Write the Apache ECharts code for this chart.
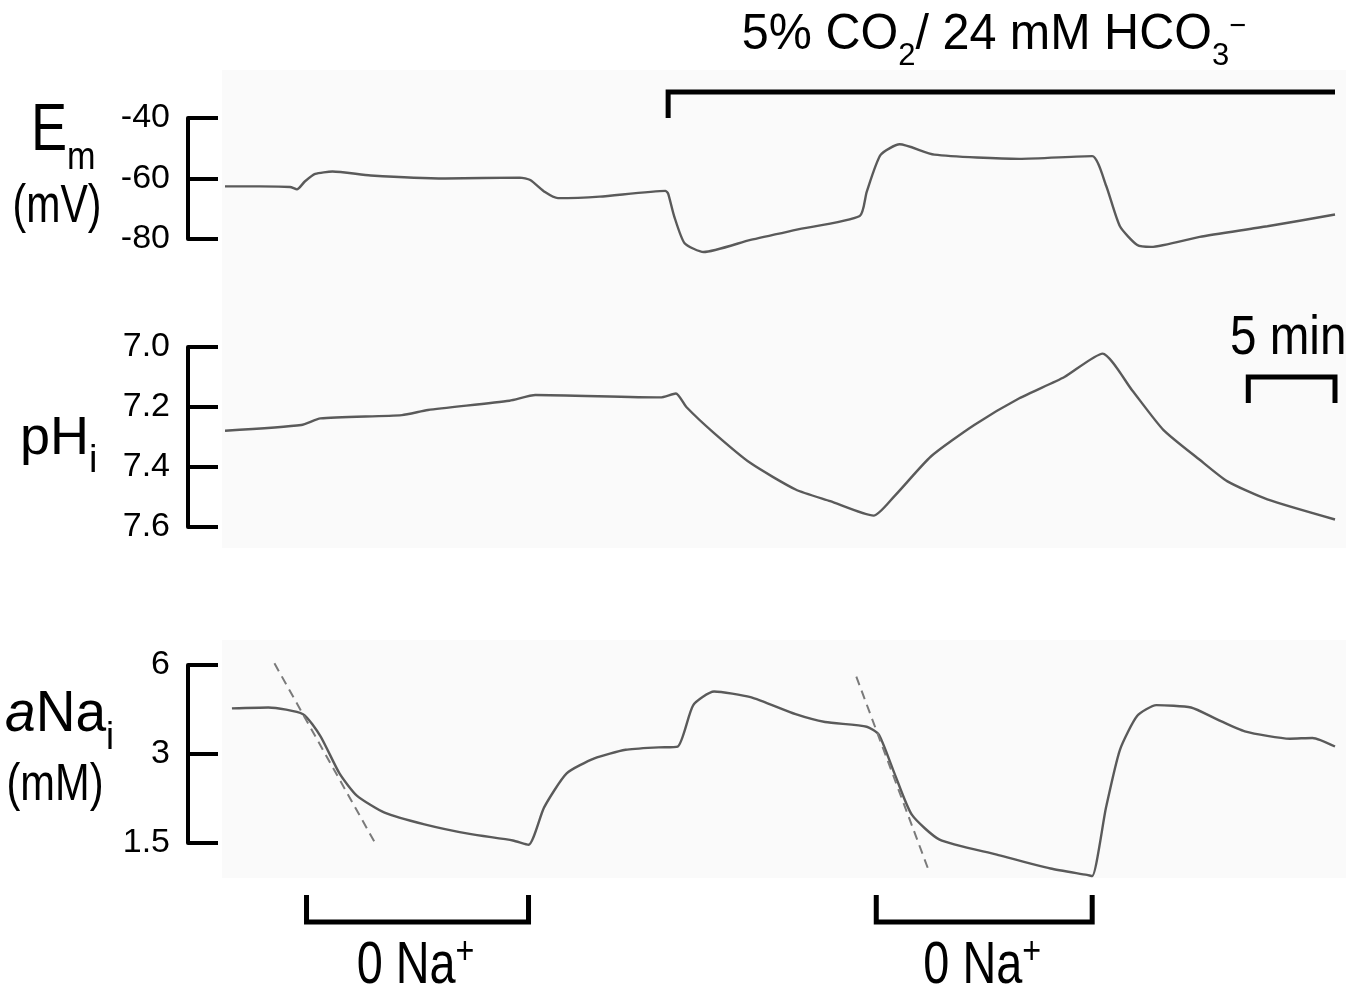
<!DOCTYPE html>
<html>
<head>
<meta charset="utf-8">
<title>Em, pHi, aNai</title>
<script src="https://cdn.jsdelivr.net/npm/echarts@6.0.0/dist/echarts.min.js"></script>
<style>
  html, body { margin: 0; padding: 0; background: #fff; }
  #main { width: 1365px; height: 993px; }
</style>
</head>
<body>
<div id="main"></div>
<script>
// time in minutes from the start of the recording
const emTime = [0, 2.0, 3.75, 4.15, 4.6, 5.2, 6.2, 8.4, 12.7, 17.0, 17.6, 18.45, 19.2, 21.6, 25.4, 25.55, 25.9, 26.5, 27.6, 30.3, 32.9, 36.6, 37.0, 37.8, 38.9, 40.9, 45.8, 50.0, 50.8, 51.6, 52.6, 53.4, 56.2, 60.1, 64.0];
const emValue = [-62.6, -62.6, -62.8, -63.6, -61, -58.5, -57.7, -59, -60, -59.7, -60.5, -64.5, -66.5, -66, -64.1, -65, -72.5, -81.4, -84.3, -80.3, -77, -72.4, -64.4, -52.2, -48.7, -52.1, -53.5, -52.6, -62.3, -75.8, -82, -82.6, -79.3, -75.8, -71.9];

const phTime = [0, 4.4, 5.5, 10.2, 11.7, 16.4, 17.9, 25.1, 26.0, 26.6, 28.2, 30.3, 32.9, 34.9, 37.4, 38.6, 40.7, 43.2, 45.8, 48.4, 50.6, 52.3, 54.1, 56.2, 57.8, 60.1, 64.0];
const phValue = [7.279, 7.26, 7.238, 7.227, 7.21, 7.179, 7.16, 7.168, 7.155, 7.2, 7.287, 7.387, 7.475, 7.514, 7.562, 7.497, 7.365, 7.26, 7.171, 7.1, 7.022, 7.144, 7.276, 7.376, 7.448, 7.508, 7.575];

const naTime = [0.4, 2.5, 4.5, 5.5, 6.6, 7.6, 9.2, 11.5, 14.1, 16.6, 17.5, 18.4, 19.7, 21.3, 23.1, 25.0, 26.1, 27.0, 28.2, 30.3, 32.9, 34.6, 37.0, 37.7, 38.6, 39.6, 41.2, 44.5, 47.6, 49.7, 50.0, 50.8, 51.6, 52.6, 53.7, 55.7, 57.2, 58.8, 61.4, 62.7, 64.0];
const naValue = [4.28, 4.31, 4.09, 3.45, 2.58, 2.17, 1.90, 1.735, 1.61, 1.53, 1.48, 1.98, 2.58, 2.90, 3.10, 3.16, 3.18, 4.39, 4.88, 4.67, 4.09, 3.85, 3.71, 3.49, 2.58, 1.87, 1.54, 1.37, 1.23, 1.17, 1.16, 1.98, 3.10, 4.04, 4.39, 4.31, 3.93, 3.58, 3.38, 3.40, 3.18];

// extrapolated initial rate of fall of aNai
const dash1Time = [2.85, 8.6];
const dash1Value = [6.08, 1.52];
const dash2Time = [36.4, 40.6];
const dash2Value = [5.48, 1.2];

const naTicks = [1.5, 3, 6];

// solution changes (min)
const co2Period = [25.55, 64];
const zeroNaPeriods = [[4.7, 17.5], [37.55, 50.0]];
const scaleBar = [59, 64];

const FONT = '"Liberation Sans", Arial, sans-serif';
const TRACE = '#5a5a5a';

const zip = (t, v) => t.map((x, i) => [x, v[i]]);

const chart = echarts.init(document.getElementById('main'));

const yCommon = {
  offset: 37,
  splitLine: { show: false },
  axisLine: { show: true, onZero: false, lineStyle: { color: '#000', width: 4 } },
  axisTick: { show: true, inside: true, length: 30, lineStyle: { color: '#000', width: 4 } },
  axisLabel: { color: '#000', fontSize: 34, fontFamily: FONT, margin: 18 },
};

const option = {
  animation: false,
  backgroundColor: '#fff',
  grid: [
    { left: 225, right: 30, top: 118, height: 121 },
    { left: 225, right: 30, top: 347, height: 180 },
    { left: 225, right: 30, top: 665, height: 178 },
  ],
  xAxis: [0, 1, 2].map((i) => ({ type: 'value', gridIndex: i, min: 0, max: 64, show: false })),
  yAxis: [
    Object.assign({}, yCommon, { type: 'value', gridIndex: 0, min: -80, max: -40, interval: 20 }),
    Object.assign({}, yCommon, {
      type: 'value', gridIndex: 1, min: 7.0, max: 7.6, interval: 0.2, inverse: true,
      axisLabel: Object.assign({}, yCommon.axisLabel, { formatter: (v) => v.toFixed(1) }),
    }),
    Object.assign({}, yCommon, {
      type: 'log', logBase: 2, gridIndex: 2, min: 1.5, max: 6,
      axisTick: Object.assign({}, yCommon.axisTick, { customValues: naTicks }),
      axisLabel: Object.assign({}, yCommon.axisLabel, { customValues: naTicks }),
    }),
  ],
  series: [
    { type: 'line', xAxisIndex: 0, yAxisIndex: 0, data: zip(emTime, emValue) },
    { type: 'line', xAxisIndex: 1, yAxisIndex: 1, data: zip(phTime, phValue) },
    { type: 'line', xAxisIndex: 2, yAxisIndex: 2, data: zip(naTime, naValue) },
  ].map((s) => Object.assign(s, {
    showSymbol: false, clip: false, smooth: 0.2, silent: true,
    lineStyle: { color: TRACE, width: 2.4 },
  })).concat([
    [dash1Time, dash1Value], [dash2Time, dash2Value],
  ].map(([t, v]) => ({
    type: 'line', xAxisIndex: 2, yAxisIndex: 2, data: zip(t, v),
    showSymbol: false, clip: false, silent: true,
    lineStyle: { color: '#7a7a7a', width: 2, type: [9, 6] },
  }))),
};
chart.setOption(option);

// text pieces (with sub/superscripts) laid out side by side from a baseline
const ctx = document.createElement('canvas').getContext('2d');
const measure = (p) => {
  ctx.font = (p.italic ? 'italic ' : '') + p.size + 'px ' + FONT;
  return ctx.measureText(p.text).width;
};
function label(parts, x, baseline, align, sx) {
  const widths = parts.map((p) => measure(p) * (p.sx || sx));
  const total = widths.reduce((a, b) => a + b, 0);
  let cur = align === 'center' ? x - total / 2 : x;
  return parts.map((p, i) => {
    const el = {
      type: 'text', x: cur, y: baseline + (p.dy || 0) - 0.3465 * p.size, scaleX: p.sx || sx,
      style: {
        text: p.text, fontSize: p.size, fontFamily: FONT, fontStyle: p.italic ? 'italic' : 'normal',
        fill: '#000', align: 'left', verticalAlign: 'middle',
      },
    };
    cur += widths[i];
    return el;
  });
}

const px = (t) => chart.convertToPixel({ xAxisIndex: 0 }, t);
const bar = (points) => ({
  type: 'polyline', shape: { points },
  style: { stroke: '#000', lineWidth: 5, fill: null, lineJoin: 'miter' },
});

let graphics = [
  { type: 'rect', z: -10, shape: { x: 222, y: 70, width: 1124, height: 478 }, style: { fill: '#fafafa' } },
  { type: 'rect', z: -10, shape: { x: 222, y: 640, width: 1124, height: 238 }, style: { fill: '#fafafa' } },
  bar([[px(co2Period[0]), 118], [px(co2Period[0]), 92], [px(co2Period[1]), 92]]),
  bar([[px(scaleBar[0]), 403], [px(scaleBar[0]), 377], [px(scaleBar[1]), 377], [px(scaleBar[1]), 403]]),
];
zeroNaPeriods.forEach(([a, b]) => {
  graphics.push(bar([[px(a), 895], [px(a), 922], [px(b), 922], [px(b), 895]]));
  graphics = graphics.concat(label([
    { text: '0 Na', size: 60 },
    { text: '+', size: 38, dy: -21, sx: 0.85 },
  ], (px(a) + px(b)) / 2 - 2, 987, 'center', 0.78));
});

graphics = graphics.concat(
  label([
    { text: '5% CO', size: 50 },
    { text: '2', size: 32, dy: 14 },
    { text: '/ 24 mM HCO', size: 50 },
    { text: '3', size: 32, dy: 14 },
    { text: '\u2212', size: 30, dy: -16 },
  ], 994, 53, 'center', 0.97),
  label([{ text: '5 min', size: 56 }], 1230, 358, 'left', 0.85),
  label([
    { text: 'E', size: 66 },
    { text: 'm', size: 38, dy: 17, sx: 0.9 },
  ], 31, 155, 'left', 0.82),
  label([{ text: '(mV)', size: 54 }], 57, 226, 'center', 0.76),
  label([
    { text: 'pH', size: 54 },
    { text: 'i', size: 38, dy: 17 },
  ], 20, 458, 'left', 1),
  label([
    { text: 'a', size: 58, italic: true },
    { text: 'Na', size: 58 },
    { text: 'i', size: 38, dy: 17 },
  ], 5, 735, 'left', 0.95),
  label([{ text: '(mM)', size: 52 }], 55, 804, 'center', 0.8),
);

chart.setOption({ graphic: graphics });
</script>
</body>
</html>
